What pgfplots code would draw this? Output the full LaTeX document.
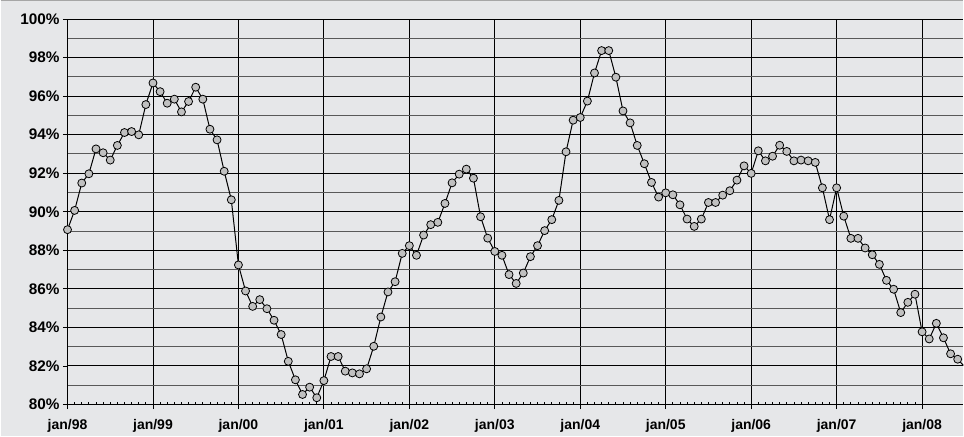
\documentclass[border=0pt]{standalone}
\usepackage{fontspec}
\setmainfont{Liberation Sans}
\usepackage{pgfplots}
\pgfplotsset{compat=1.18}
\definecolor{bg}{RGB}{230,231,233}
\definecolor{mk}{RGB}{192,192,192}
\begin{document}
\begin{tikzpicture}
\fill[bg] (-50.25pt,-24pt) rectangle (672.75pt,303.75pt);
\draw[black!35, line width=0.9pt] (-50.25pt,303.3pt) -- (672.75pt,303.3pt);
\useasboundingbox (-50.25pt,-24pt) rectangle (672.75pt,303.75pt);
\begin{axis}[
    scale only axis,
    width=672.75pt, height=289.5pt,
    xmin=0, xmax=125.8,
    ymin=80, ymax=100,
    axis lines=left,
    axis line style={-, line width=1pt},
    xtick={0,12,...,120},
    xticklabels={jan/98,jan/99,jan/00,jan/01,jan/02,jan/03,jan/04,jan/05,jan/06,jan/07,jan/08},
    minor x tick num=11,
    ytick={80,82,...,100},
    yticklabels={80\%,82\%,84\%,86\%,88\%,90\%,92\%,94\%,96\%,98\%,100\%},
    minor ytick={81,83,...,99},
    xmajorgrids, ymajorgrids, yminorgrids,
    major grid style={black, line width=0.7pt},
    minor grid style={black!65, line width=0.7pt},
    tick align=outside,
    tick style={black, line width=0.6pt},
    major tick length=3.5pt,
    minor tick length=2.2pt,
    minor x tick style={yshift=2.2pt},
    minor y tick style={draw=none},
    xticklabel style={font=\bfseries\fontsize{10.5}{12}\selectfont, yshift=-4pt},
    yticklabel style={font=\bfseries\fontsize{11.5}{13}\selectfont, xshift=1pt},
    /pgf/number format/assume math mode=true,
]
\addplot[black, line width=0.75pt, mark=*, mark size=3pt,
    mark options={fill=mk, draw=black, line width=0.6pt}] coordinates {
(0,89.07)(1,90.07)(2,91.49)(3,91.97)(4,93.26)(5,93.06)(6,92.68)(7,93.44)(8,94.11)(9,94.16)(10,93.99)(11,95.56)
(12,96.68)(13,96.23)(14,95.63)(15,95.84)(16,95.18)(17,95.72)(18,96.46)(19,95.84)(20,94.28)(21,93.73)(22,92.10)(23,90.62)
(24,87.24)(25,85.89)(26,85.09)(27,85.44)(28,84.97)(29,84.37)(30,83.63)(31,82.24)(32,81.28)(33,80.52)(34,80.90)(35,80.35)
(36,81.24)(37,82.49)(38,82.49)(39,81.73)(40,81.64)(41,81.59)(42,81.85)(43,83.02)(44,84.54)(45,85.84)(46,86.37)(47,87.84)
(48,88.24)(49,87.74)(50,88.79)(51,89.33)(52,89.45)(53,90.43)(54,91.50)(55,91.95)(56,92.21)(57,91.74)(58,89.74)(59,88.63)
(60,87.94)(61,87.74)(62,86.74)(63,86.28)(64,86.82)(65,87.67)(66,88.24)(67,89.02)(68,89.59)(69,90.59)(70,93.11)(71,94.75)
(72,94.89)(73,95.74)(74,97.20)(75,98.36)(76,98.36)(77,96.98)(78,95.23)(79,94.61)(80,93.44)(81,92.49)(82,91.52)(83,90.76)
(84,90.98)(85,90.88)(86,90.36)(87,89.62)(88,89.24)(89,89.62)(90,90.48)(91,90.48)(92,90.86)(93,91.09)(94,91.64)(95,92.38)
(96,91.99)(97,93.16)(98,92.64)(99,92.88)(100,93.45)(101,93.13)(102,92.64)(103,92.68)(104,92.64)(105,92.56)(106,91.24)(107,89.59)
(108,91.24)(109,89.77)(110,88.62)(111,88.62)(112,88.12)(113,87.77)(114,87.27)(115,86.44)(116,85.98)(117,84.77)(118,85.30)(119,85.72)
(120,83.77)(121,83.40)(122,84.21)(123,83.46)(124,82.63)(125,82.35)(126,81.95)
};
\end{axis}
\end{tikzpicture}
\end{document}
